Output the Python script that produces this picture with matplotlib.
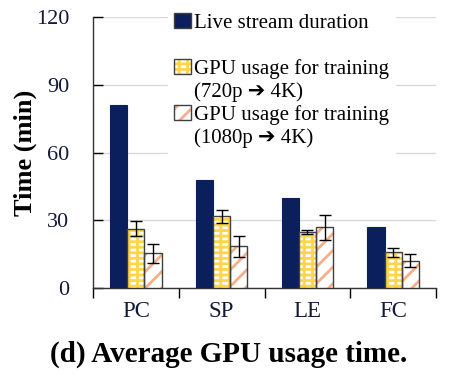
import numpy as np
import matplotlib
matplotlib.use("Agg")
import matplotlib.pyplot as plt
from matplotlib.patches import Patch

plt.rcParams['font.family'] = ['Liberation Serif', 'DejaVu Sans']
plt.rcParams['hatch.linewidth'] = 2.0

# data
categories = ["PC", "SP", "LE", "FC"]
live = [81, 48, 40, 27]
gpu720 = [26.3, 31.7, 24.9, 15.8]
gpu720_err = [3.3, 2.7, 1.0, 2.0]
gpu1080 = [15.4, 18.4, 26.9, 12.1]
gpu1080_err = [4.2, 4.8, 5.5, 2.8]
yticks = [0, 30, 60, 90, 120]

navy = "#0a1f5c"
yellow = "#ffd54a"
salmon = "#f5b088"
edge = "#404040"
tick_col = "#121a3a"

fig = plt.figure(figsize=(4.6, 3.91), dpi=100)
ax = fig.add_axes([0.202, 0.2634, 0.746, 0.6931])

x = np.arange(len(categories))
w = 0.2

ax.bar(x - w, live, w, color=navy, edgecolor=navy, linewidth=0.8, zorder=3)
# hatched bars: hatch layer then outline layer
ax.bar(x, gpu720, w, color="white", edgecolor=yellow, hatch="---||", linewidth=0, zorder=3)
ax.bar(x, gpu720, w, color="none", edgecolor=edge, linewidth=1.0, zorder=4)
ax.bar(x + w, gpu1080, w, color="white", edgecolor=salmon, hatch="//", linewidth=0, zorder=3)
ax.bar(x + w, gpu1080, w, color="none", edgecolor=edge, linewidth=1.0, zorder=4)

ax.errorbar(x, gpu720, yerr=gpu720_err, fmt="none", ecolor="black", elinewidth=1, capsize=4, capthick=1, zorder=5)
ax.errorbar(x + w, gpu1080, yerr=gpu1080_err, fmt="none", ecolor="black", elinewidth=1, capsize=4, capthick=1, zorder=5)

ax.set_xlim(-0.5, len(categories) - 0.5)
ax.set_ylim(0, 120)
ax.set_yticks(yticks)
ax.yaxis.grid(True, color="#d9d9d9", linewidth=1, zorder=0)
ax.set_axisbelow(True)

ax.set_xticks(np.arange(len(categories) + 1) - 0.5)
ax.set_xticklabels([])
ax.set_xticks(x, minor=True)
ax.set_xticklabels(categories, minor=True, fontsize=16.5, color=tick_col)
ax.tick_params(axis="x", which="major", direction="out", length=7, width=1)
ax.tick_params(axis="x", which="minor", length=0, pad=9)
ax.tick_params(axis="y", direction="in", length=7, width=1, labelsize=16,
               labelcolor=tick_col, pad=17)

for s in ["top", "right"]:
    ax.spines[s].set_visible(False)
for s in ["left", "bottom"]:
    ax.spines[s].set_color("#333333")
    ax.spines[s].set_linewidth(1)

ax.set_ylabel("Time (min)", fontsize=19, fontweight="bold", labelpad=-1)

h_live = Patch(facecolor=navy, edgecolor=edge)
h_720 = (Patch(facecolor="white", edgecolor=yellow, hatch="---||", linewidth=0),
         Patch(facecolor="none", edgecolor=edge))
h_1080 = (Patch(facecolor="white", edgecolor=salmon, hatch="//", linewidth=0),
          Patch(facecolor="none", edgecolor=edge))
blank = Patch(facecolor="none", edgecolor="none")
handles = [h_live, blank, h_720, blank, h_1080, blank]
labels = ["Live stream duration", " ", "GPU usage for training", "(720p \u2794 4K)",
          "GPU usage for training", "(1080p \u2794 4K)"]
leg = ax.legend(handles, labels, loc="upper left", bbox_to_anchor=(0.342, 1.01),
                bbox_transform=fig.transFigure, fontsize=15, frameon=True,
                framealpha=1, facecolor="white", edgecolor="white", fancybox=False,
                handlelength=0.8, handleheight=0.75, handletextpad=0.15,
                labelspacing=0.15, borderpad=0.3)
leg.set_zorder(10)

fig.text(0.497, 0.095, "(d) Average GPU usage time.", ha="center", va="center",
         fontsize=21, fontweight="bold")

fig.savefig("out.png", dpi=100)
